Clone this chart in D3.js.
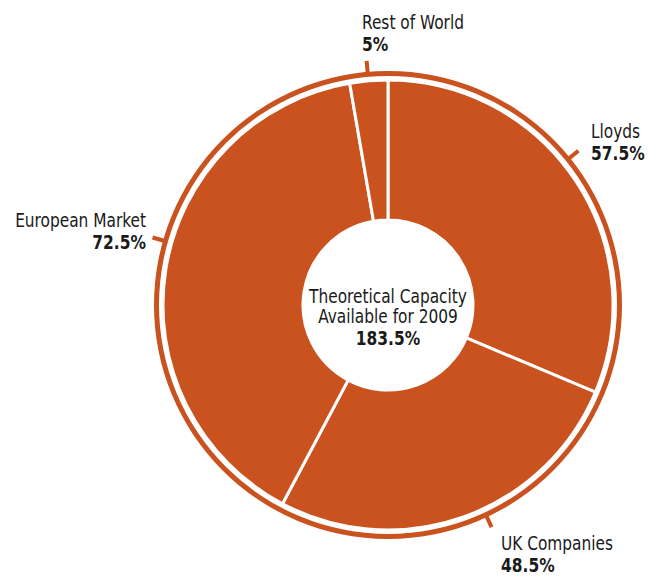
<!DOCTYPE html>
<html>
<head>
<meta charset="utf-8">
<script src="https://cdn.jsdelivr.net/npm/d3@7/dist/d3.min.js"></script>
<style>
  html, body { margin: 0; padding: 0; background: #fff; }
  svg { display: block; }
  text { font-family: "DejaVu Sans Condensed", "DejaVu Sans", sans-serif; fill: #1a1a1a; }
</style>
</head>
<body>
<svg id="chart" width="648" height="576"></svg>
<script>
// Capacity shares by market (percent)
const categories = ["Lloyds", "UK Companies", "European Market", "Rest of World"];
const values = [57.5, 48.5, 72.5, 5];
const valueLabels = ["57.5%", "48.5%", "72.5%", "5%"];
const centerTitle = ["Theoretical Capacity", "Available for 2009"];
const centerValue = "183.5%";

// Label layout: anchor, text position, and leader tick angle (degrees clockwise from top)
const labelX = [591, 501, 146, 362];
const labelY = [138, 550, 227, 29];
const labelAnchor = ["start", "start", "end", "start"];
const tickAngle = [51, 155, 286, -5];

const cx = 388, cy = 305;
const rOuter = 225, rInner = 85;
const ringIn = 229, ringOut = 234;
const orange = "#C9521F";
const sxRegular = 0.9, sxBold = 0.86;

const svg = d3.select("#chart");
const g = svg.append("g").attr("transform", `translate(${cx},${cy})`);

const pie = d3.pie().sort(null).value(d => d);
const arcs = pie(values);
const arc = d3.arc().innerRadius(rInner).outerRadius(rOuter);

// Slices
g.selectAll("path.slice")
  .data(arcs)
  .join("path")
  .attr("class", "slice")
  .attr("d", arc)
  .attr("fill", orange)
  .attr("stroke", "#fff")
  .attr("stroke-width", 3)
  .attr("stroke-linejoin", "miter");

// Outer ring
g.append("path")
  .attr("d", d3.arc().innerRadius(ringIn).outerRadius(ringOut).startAngle(0).endAngle(2 * Math.PI)())
  .attr("fill", orange);

// Leader ticks
const toRad = d => d * Math.PI / 180;
g.selectAll("line.tick")
  .data(tickAngle)
  .join("line")
  .attr("class", "tick")
  .attr("x1", a => Math.sin(toRad(a)) * (ringOut - 1))
  .attr("y1", a => -Math.cos(toRad(a)) * (ringOut - 1))
  .attr("x2", a => Math.sin(toRad(a)) * (ringOut + 11))
  .attr("y2", a => -Math.cos(toRad(a)) * (ringOut + 11))
  .attr("stroke", orange)
  .attr("stroke-width", 4);

// Narrowed text helper
function label(sel, x, y, txt, anchor, bold) {
  sel.append("text")
    .attr("transform", `translate(${x},${y}) scale(${bold ? sxBold : sxRegular},1)`)
    .attr("text-anchor", anchor)
    .attr("font-size", bold ? 20 : 19)
    .attr("font-weight", bold ? "bold" : "normal")
    .text(txt);
}

// Category labels
categories.forEach((c, i) => {
  const grp = svg.append("g").attr("class", "lbl");
  label(grp, labelX[i], labelY[i], c, labelAnchor[i], false);
  label(grp, labelX[i], labelY[i] + 22, valueLabels[i], labelAnchor[i], true);
});

// Center text
const ct = svg.append("g").attr("class", "center");
centerTitle.forEach((t, i) => label(ct, cx, 303 + i * 20, t, "middle", false));
label(ct, cx, 345, centerValue, "middle", true);
</script>
</body>
</html>
